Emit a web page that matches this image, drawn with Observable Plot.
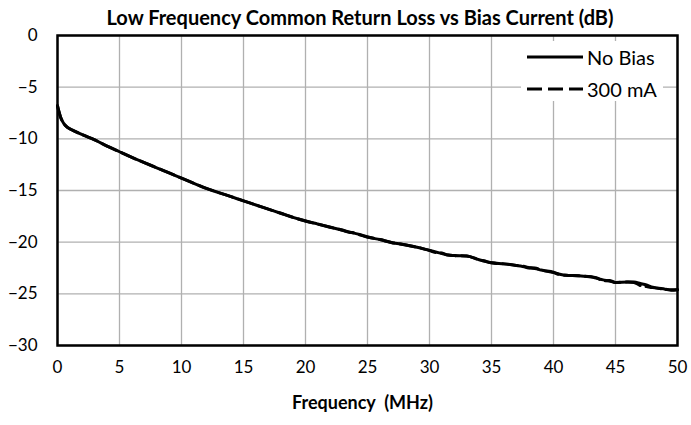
<!DOCTYPE html>
<html>
<head>
<meta charset="utf-8">
<script src="https://cdn.jsdelivr.net/npm/d3@7"></script>
<script src="https://cdn.jsdelivr.net/npm/@observablehq/plot@0.6"></script>
<style>
  body { margin: 0; background: #fff; font-family: Lato, "Open Sans", sans-serif; }
  #wrap { position: relative; width: 691px; height: 425px; background: #fff; }
  #title { position: absolute; z-index: 2; left: 50px; width: 620px; top: 5px; line-height: 24px; text-align: center; font-weight: bold; font-size: 20px; color: #000; white-space: nowrap; }
  #chart { position: absolute; z-index: 1; left: 0; top: 18px; }
  #legend { position: absolute; z-index: 3; left: 521px; top: 41px; width: 142px; height: 60px; background: #fff; font-size: 20px; color: #000; }
  #legend svg { position: absolute; left: 0; top: 0; }
  #legend span { position: absolute; left: 66px; line-height: 24px; }
</style>
</head>
<body>
<div id="wrap">
  <div id="title">Low Frequency Common Return Loss vs Bias Current (dB)</div>
  <div id="chart"></div>
  <div id="legend">
    <svg width="66" height="60">
      <line x1="6" x2="62" y1="16" y2="16" stroke="#000" stroke-width="3"/>
      <line x1="6" x2="62" y1="48" y2="48" stroke="#000" stroke-width="3" stroke-dasharray="15,6"/>
    </svg>
    <span style="top:4px">No Bias</span>
    <span style="top:36px">300 mA</span>
  </div>
</div>
<script>
const freq = [0, 0.1, 0.25, 0.5, 0.8, 1.2, 2, 3, 4, 5, 6, 7, 8, 9, 10, 11, 12, 13, 14, 15, 16, 17, 18, 19, 20, 21, 22, 23, 23.5, 24, 24.5, 25, 26, 27, 28, 29, 30, 30.5, 31, 31.5, 32, 33, 34, 34.5, 35, 36, 37, 37.5, 38, 38.5, 39, 40, 40.5, 41, 42, 43, 43.5, 44, 44.5, 45, 46, 46.5, 47, 47.5, 48, 49, 49.5, 50];
const noBias = [-6.8, -7.3, -7.9, -8.5, -8.9, -9.15, -9.6, -10.1, -10.7, -11.25, -11.8, -12.3, -12.8, -13.3, -13.8, -14.3, -14.8, -15.2, -15.6, -16.0, -16.4, -16.8, -17.2, -17.6, -17.95, -18.25, -18.55, -18.85, -19.0, -19.15, -19.3, -19.5, -19.75, -20.05, -20.25, -20.5, -20.8, -20.95, -21.1, -21.25, -21.3, -21.35, -21.7, -21.85, -22.0, -22.1, -22.25, -22.35, -22.45, -22.55, -22.7, -22.95, -23.1, -23.2, -23.25, -23.35, -23.5, -23.65, -23.75, -23.9, -23.85, -23.85, -24.0, -24.15, -24.35, -24.55, -24.65, -24.6];
const bias300 = [-6.8, -7.3, -7.9, -8.5, -8.9, -9.15, -9.6, -10.1, -10.7, -11.25, -11.8, -12.3, -12.8, -13.3, -13.8, -14.3, -14.8, -15.2, -15.6, -16.0, -16.4, -16.8, -17.2, -17.6, -17.95, -18.25, -18.55, -18.85, -19.05, -19.1, -19.35, -19.5, -19.75, -20.05, -20.25, -20.5, -20.8, -21.0, -21.05, -21.25, -21.3, -21.35, -21.7, -21.85, -22.0, -22.1, -22.25, -22.3, -22.5, -22.5, -22.7, -22.9, -23.15, -23.2, -23.25, -23.35, -23.45, -23.75, -23.7, -23.9, -23.85, -23.9, -24.2, -24.3, -24.4, -24.55, -24.6, -24.6];
const xTicks = [0, 5, 10, 15, 20, 25, 30, 35, 40, 45, 50];
const yTicks = [0, -5, -10, -15, -20, -25, -30];
const seriesNames = ["No Bias", "300 mA"];

const rows = [];
freq.forEach((f, i) => {
  rows.push({ f, v: noBias[i], s: seriesNames[0] });
  rows.push({ f, v: bias300[i], s: seriesNames[1] });
});

const chart = Plot.plot({
  width: 691,
  height: 407,
  marginLeft: 57,
  marginRight: 14,
  marginTop: 17,
  marginBottom: 80,
  style: { fontFamily: "Lato, 'Open Sans', sans-serif", fontSize: "17px", color: "#000", background: "transparent", overflow: "visible" },
  x: { domain: [0, 50], ticks: xTicks, tickSize: 0, tickPadding: 15, label: null },
  y: { domain: [-30, 0], ticks: yTicks, tickSize: 0, tickPadding: 20, label: null },
  marks: [
    Plot.gridX(xTicks, { stroke: "#b0b0b0", strokeOpacity: 1, strokeWidth: 1.3 }),
    Plot.gridY(yTicks, { stroke: "#b0b0b0", strokeOpacity: 1, strokeWidth: 1.3 }),
    Plot.line(rows.filter(d => d.s === seriesNames[1]), { x: "f", y: "v", stroke: "#000", strokeWidth: 3, strokeDasharray: "15,6", curve: "monotone-x" }),
    Plot.line(rows.filter(d => d.s === seriesNames[0]), { x: "f", y: "v", stroke: "#000", strokeWidth: 3, curve: "monotone-x" }),
    Plot.frame({ stroke: "#000", strokeWidth: 2.5 }),
    Plot.axisX({ ticks: xTicks, tickSize: 0, tickPadding: 15, label: null, fontSize: 17 }),
    Plot.axisY({ ticks: yTicks, tickSize: 0, tickPadding: 20, label: null, fontSize: 17 }),
    Plot.text(["Frequency  (MHz)"], { frameAnchor: "bottom", dy: 63, dx: -5, fontWeight: "bold", fontSize: 18, text: d => d })
  ]
});
document.getElementById("chart").appendChild(chart);
</script>
</body>
</html>
